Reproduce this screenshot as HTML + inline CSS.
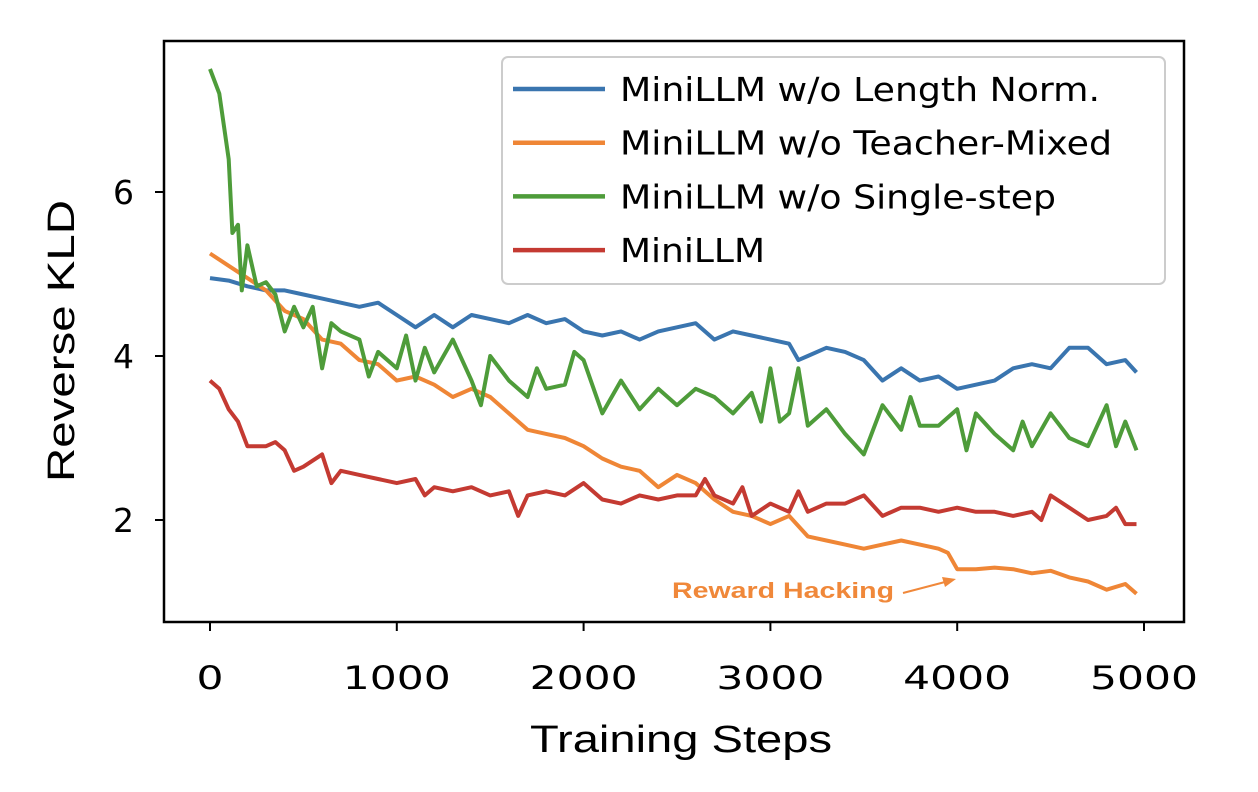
<!DOCTYPE html>
<html><head><meta charset="utf-8"><style>
body{margin:0;background:#fff;}
svg text{font-family:"DejaVu Sans","Liberation Sans",sans-serif;}
</style></head><body>
<svg id="chart" width="1258" height="787" viewBox="0 0 1258 787" xmlns="http://www.w3.org/2000/svg">
<rect x="0" y="0" width="1258" height="787" fill="#fff"/>
<g id="series"></g>
<rect x="164" y="41" width="1020" height="581" fill="none" stroke="#000" stroke-width="2.5"/>
<g id="axes"></g>
<text x="530" y="752" font-size="38" textLength="302" lengthAdjust="spacingAndGlyphs" style="font-family:'Liberation Sans',sans-serif">Training Steps</text>
<text transform="translate(74,482) rotate(-90)" font-size="38" textLength="282" lengthAdjust="spacingAndGlyphs" style="font-family:'Liberation Sans',sans-serif">Reverse KLD</text>
<text x="672" y="598" font-size="22" font-weight="bold" fill="#f0883a" textLength="222" lengthAdjust="spacingAndGlyphs" style="font-family:'Liberation Sans',sans-serif">Reward Hacking</text>
<g>
<line x1="903" y1="593" x2="945" y2="582" stroke="#f0883a" stroke-width="2"/>
<polygon points="956,579 942,577 945,587" fill="#f0883a"/>
</g>
<g>
<rect x="502" y="57" width="663" height="227" rx="6" fill="#fff" fill-opacity="0.8" stroke="#ccc" stroke-width="2"/>
<g id="legend-items"></g>
</g>
</svg>
<script>
const xTicks=[0,1000,2000,3000,4000,5000];
const yTicks=[2,4,6];
const seriesNames=["MiniLLM w/o Length Norm.","MiniLLM w/o Teacher-Mixed","MiniLLM w/o Single-step","MiniLLM"];
const legendWidths=[480,492,436,145];
const seriesColors=["#3a75af","#ef8636","#4e9c3a","#c43a32"];
const blueX=[0,100,200,300,400,500,600,700,800,900,1000,1100,1200,1300,1400,1500,1600,1700,1800,1900,2000,2100,2200,2300,2400,2500,2600,2700,2800,2900,3000,3100,3150,3200,3300,3400,3500,3600,3700,3800,3900,4000,4100,4200,4300,4400,4500,4600,4700,4800,4900,4960];
const blueY=[4.95,4.92,4.85,4.8,4.8,4.75,4.7,4.65,4.6,4.65,4.5,4.35,4.5,4.35,4.5,4.45,4.4,4.5,4.4,4.45,4.3,4.25,4.3,4.2,4.3,4.35,4.4,4.2,4.3,4.25,4.2,4.15,3.95,4.0,4.1,4.05,3.95,3.7,3.85,3.7,3.75,3.6,3.65,3.7,3.85,3.9,3.85,4.1,4.1,3.9,3.95,3.8];
const orangeX=[0,100,200,300,400,500,600,700,800,900,1000,1100,1200,1300,1400,1500,1600,1700,1800,1900,2000,2100,2200,2300,2400,2500,2600,2700,2800,2900,3000,3100,3200,3300,3400,3500,3600,3700,3800,3900,3950,4000,4100,4200,4300,4400,4500,4600,4700,4800,4900,4960];
const orangeY=[5.25,5.1,4.95,4.8,4.55,4.45,4.2,4.15,3.95,3.9,3.7,3.75,3.65,3.5,3.6,3.5,3.3,3.1,3.05,3.0,2.9,2.75,2.65,2.6,2.4,2.55,2.45,2.25,2.1,2.05,1.95,2.05,1.8,1.75,1.7,1.65,1.7,1.75,1.7,1.65,1.6,1.4,1.4,1.42,1.4,1.35,1.38,1.3,1.25,1.15,1.22,1.1];
const greenX=[0,50,100,120,150,170,200,250,300,350,400,450,500,550,600,650,700,800,850,900,1000,1050,1100,1150,1200,1300,1400,1450,1500,1600,1700,1750,1800,1900,1950,2000,2100,2200,2300,2400,2500,2600,2700,2800,2900,2950,3000,3050,3100,3150,3200,3300,3400,3500,3550,3600,3700,3750,3800,3900,4000,4050,4100,4200,4300,4350,4400,4500,4600,4700,4800,4850,4900,4960];
const greenY=[7.5,7.2,6.4,5.5,5.6,4.8,5.35,4.85,4.9,4.75,4.3,4.6,4.35,4.6,3.85,4.4,4.3,4.2,3.75,4.05,3.85,4.25,3.7,4.1,3.8,4.2,3.7,3.4,4.0,3.7,3.5,3.85,3.6,3.65,4.05,3.95,3.3,3.7,3.35,3.6,3.4,3.6,3.5,3.3,3.55,3.2,3.85,3.2,3.3,3.85,3.15,3.35,3.05,2.8,3.1,3.4,3.1,3.5,3.15,3.15,3.35,2.85,3.3,3.05,2.85,3.2,2.9,3.3,3.0,2.9,3.4,2.9,3.2,2.85];
const redX=[0,50,100,150,200,300,350,400,450,500,600,650,700,800,900,1000,1100,1150,1200,1300,1400,1500,1600,1650,1700,1800,1900,2000,2100,2200,2300,2400,2500,2600,2650,2700,2800,2850,2900,3000,3100,3150,3200,3300,3400,3500,3600,3700,3800,3900,4000,4100,4200,4300,4400,4450,4500,4600,4700,4800,4850,4900,4960];
const redY=[3.7,3.6,3.35,3.2,2.9,2.9,2.95,2.85,2.6,2.65,2.8,2.45,2.6,2.55,2.5,2.45,2.5,2.3,2.4,2.35,2.4,2.3,2.35,2.05,2.3,2.35,2.3,2.45,2.25,2.2,2.3,2.25,2.3,2.3,2.5,2.3,2.2,2.4,2.05,2.2,2.1,2.35,2.1,2.2,2.2,2.3,2.05,2.15,2.15,2.1,2.15,2.1,2.1,2.05,2.1,2.0,2.3,2.15,2.0,2.05,2.15,1.95,1.95];

const sx=v=>210+v*(1144-210)/5000;
const sy=v=>684-v*82;
const NS="http://www.w3.org/2000/svg";
const series=document.getElementById('series');
const xs=[blueX,orangeX,greenX,redX], ys=[blueY,orangeY,greenY,redY];
const snames=['series-length-norm','series-teacher-mixed','series-single-step','series-minillm'];
for(let s=0;s<4;s++){
  const p=document.createElementNS(NS,'polyline');
  p.setAttribute('points',xs[s].map((x,i)=>sx(x).toFixed(1)+','+sy(ys[s][i]).toFixed(1)).join(' '));
  p.setAttribute('fill','none');p.setAttribute('stroke',seriesColors[s]);
  p.setAttribute('stroke-width','4');p.setAttribute('stroke-linejoin','round');
  
  
  series.appendChild(p);
}
const axes=document.getElementById('axes');
xTicks.forEach(t=>{
  const l=document.createElementNS(NS,'line');
  l.setAttribute('x1',sx(t));l.setAttribute('x2',sx(t));l.setAttribute('y1',622);l.setAttribute('y2',631);
  l.setAttribute('stroke','#000');l.setAttribute('stroke-width','2');
  
  
  axes.appendChild(l);
  const tx=document.createElementNS(NS,'text');
  tx.setAttribute('x',sx(t));tx.setAttribute('y',689);tx.setAttribute('font-size','32');tx.setAttribute('text-anchor','middle');
  const s=String(t);
  tx.setAttribute('textLength',s.length*27);tx.setAttribute('lengthAdjust','spacingAndGlyphs');
  tx.textContent=s;
  
  
  axes.appendChild(tx);
});
yTicks.forEach(t=>{
  const l=document.createElementNS(NS,'line');
  l.setAttribute('x1',155);l.setAttribute('x2',164);l.setAttribute('y1',sy(t));l.setAttribute('y2',sy(t));
  l.setAttribute('stroke','#000');l.setAttribute('stroke-width','2');
  
  
  axes.appendChild(l);
  const tx=document.createElementNS(NS,'text');
  tx.setAttribute('x',134);tx.setAttribute('y',sy(t)+12);tx.setAttribute('font-size','33');tx.setAttribute('text-anchor','end');
  tx.textContent=t;
  
  
  axes.appendChild(tx);
});
const leg=document.getElementById('legend-items');
seriesNames.forEach((n,i)=>{
  const y=89+i*53.7;
  const l=document.createElementNS(NS,'line');
  l.setAttribute('x1',513);l.setAttribute('x2',605);l.setAttribute('y1',y);l.setAttribute('y2',y);
  l.setAttribute('stroke',seriesColors[i]);l.setAttribute('stroke-width','4.5');
  
  
  leg.appendChild(l);
  const tx=document.createElementNS(NS,'text');
  tx.setAttribute('x',620);tx.setAttribute('y',y+12);tx.setAttribute('font-size','33');
  tx.setAttribute('textLength',legendWidths[i]);tx.setAttribute('lengthAdjust','spacingAndGlyphs');
  tx.textContent=n;
  
  
  leg.appendChild(tx);
});
</script>
</body></html>
